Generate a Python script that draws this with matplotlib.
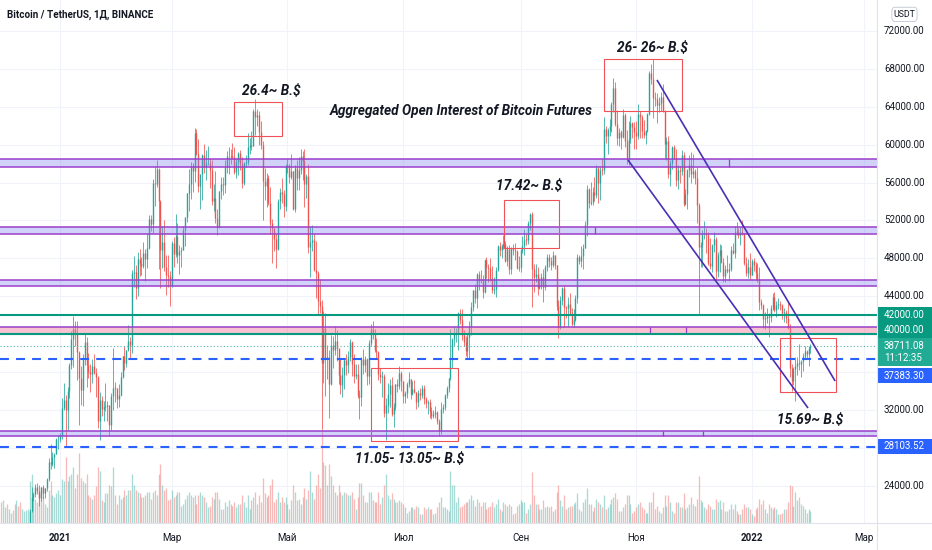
import matplotlib
matplotlib.use("Agg")
import matplotlib.pyplot as plt
from matplotlib.patches import Rectangle, FancyBboxPatch
from matplotlib.lines import Line2D
import numpy as np

plt.rcParams['font.family'] = ['Roboto', 'DejaVu Sans']

# ---------------- data (prices in thousand USDT, daily, from 2020-12-01) -------------
START_DAY = -31          # 2020-12-01 relative to 2021-01-01
FIRST_OPEN = 19.70

close = [
    18.77, 19.22, 19.42, 18.65, 19.15, 19.36, 19.17, 18.32, 18.55, 18.25, 18.04, 18.80, 19.17, 19.27, 19.43, 21.33, 22.80, 23.14, 23.85, 23.48, 22.72, 23.82, 23.25, 23.73, 24.69, 26.49, 26.28, 27.04, 27.37, 28.90, 28.92,
    29.33, 32.18, 33.00, 31.99, 33.95, 36.77, 39.43, 40.58, 40.09, 38.15, 35.40, 34.05, 37.37, 39.15, 36.77, 36.00, 35.80, 36.63, 35.89, 35.47, 30.83, 33.00, 32.09, 32.27, 32.37, 32.56, 30.43, 33.47, 34.32, 34.30, 33.11,
    33.53, 35.51, 37.67, 36.92, 38.29, 39.26, 38.85, 46.45, 46.51, 44.84, 47.97, 47.40, 47.19, 48.60, 47.94, 49.13, 52.12, 51.59, 55.91, 55.89, 57.41, 54.09, 48.89, 49.68, 47.07, 46.28, 46.11, 45.14,
    49.59, 48.44, 50.35, 48.37, 48.75, 48.88, 50.97, 52.38, 54.88, 55.86, 57.77, 57.22, 61.19, 58.97, 55.61, 56.90, 58.91, 57.65, 58.03, 58.10, 57.35, 54.08, 54.34, 52.30, 51.30, 55.07, 55.86, 55.78, 57.63, 58.77, 58.80,
    58.74, 58.72, 57.06, 58.20, 59.13, 57.99, 56.00, 58.09, 58.13, 59.77, 59.96, 59.86, 63.58, 62.96, 63.16, 61.33, 60.00, 56.15, 55.66, 56.47, 53.79, 51.70, 51.15, 50.05, 49.00, 54.02, 55.03, 54.83, 53.56, 57.70,
    57.80, 56.58, 57.17, 53.24, 57.48, 56.44, 57.35, 58.84, 58.24, 55.84, 56.70, 49.15, 49.72, 49.88, 46.76, 46.43, 43.54, 42.91, 36.96, 40.60, 37.33, 37.54, 34.77, 38.85, 38.35, 39.29, 38.55, 35.66, 34.65, 35.68, 37.30,
    36.69, 37.57, 39.19, 36.84, 35.52, 35.80, 33.58, 33.40, 37.39, 36.68, 37.33, 35.55, 39.02, 40.52, 40.14, 38.35, 38.09, 35.82, 35.48, 35.60, 31.68, 32.50, 33.68, 34.66, 31.59, 32.28, 34.70, 34.50, 35.90, 35.04,
    33.51, 33.80, 34.70, 35.29, 33.69, 34.22, 33.88, 32.86, 33.81, 33.52, 34.26, 33.09, 32.73, 32.82, 31.88, 31.38, 31.52, 31.78, 30.84, 29.79, 32.11, 32.29, 33.58, 34.29, 35.38, 37.27, 39.46, 40.00, 40.01, 42.23, 41.46,
    39.85, 39.15, 38.19, 39.72, 40.87, 42.84, 44.61, 43.83, 46.29, 45.60, 45.55, 44.42, 47.83, 47.10, 47.02, 45.94, 44.69, 44.72, 46.76, 49.34, 48.87, 49.29, 49.52, 47.70, 48.95, 46.85, 49.07, 48.90, 48.80, 46.99, 47.10,
    48.85, 49.28, 49.94, 49.93, 51.76, 52.63, 46.86, 46.07, 46.37, 44.84, 45.16, 46.03, 44.93, 47.11, 48.12, 47.75, 47.30, 48.30, 47.26, 43.00, 40.70, 43.57, 44.90, 42.84, 42.70, 43.20, 42.17, 41.03, 41.52, 43.79,
    48.14, 47.71, 48.20, 49.11, 51.51, 55.36, 53.80, 53.97, 54.96, 54.66, 57.49, 56.00, 57.37, 57.35, 61.67, 60.88, 61.53, 62.01, 64.28, 66.00, 62.21, 60.69, 61.29, 60.85, 63.08, 60.33, 58.46, 60.58, 62.25, 61.89, 61.30,
    60.91, 63.22, 62.93, 61.40, 61.00, 61.47, 63.27, 67.54, 66.94, 64.88, 64.81, 64.16, 64.40, 65.00, 63.60, 60.06, 60.35, 56.90, 58.11, 59.70, 58.62, 56.25, 57.27, 57.17, 58.94, 53.70, 54.74, 57.27, 57.80, 56.95,
    57.18, 56.48, 53.60, 49.15, 49.40, 50.53, 50.59, 50.47, 47.55, 47.14, 49.39, 50.05, 46.70, 48.34, 48.86, 47.63, 46.13, 46.83, 46.68, 46.91, 48.89, 48.59, 50.82, 50.81, 50.43, 50.78, 50.70, 47.54, 46.46, 47.12, 46.22,
    47.72, 47.30, 46.44, 45.83, 43.43, 43.08, 41.56, 41.73, 41.86, 41.82, 42.73, 43.90, 42.59, 43.10, 43.18, 43.11, 42.25, 42.37, 41.66, 40.68, 36.45, 35.07, 36.28, 36.65, 36.95, 36.81, 37.16, 37.72, 38.17, 37.92, 38.48, 38.71,
]

high = [
    19.92, 19.34, 19.53, 19.50, 19.18, 19.42, 19.39, 19.29, 18.64, 18.56, 18.29, 18.95, 19.41, 19.35, 19.57, 21.56, 23.80, 23.28, 24.17, 24.30, 24.10, 23.84, 24.10, 23.79, 24.79, 26.87, 28.42, 27.50, 27.41, 29.00, 29.30,
    29.60, 33.30, 34.78, 33.60, 34.36, 36.94, 40.36, 41.95, 41.38, 41.35, 38.26, 36.63, 37.85, 40.10, 39.70, 37.95, 36.85, 37.40, 37.85, 36.42, 35.60, 33.83, 33.46, 32.94, 34.88, 32.92, 32.56, 33.78, 38.53, 34.93, 34.33,
    34.72, 35.98, 37.67, 38.71, 38.31, 40.95, 39.70, 46.79, 48.20, 47.31, 48.68, 48.98, 48.15, 49.70, 49.00, 50.66, 52.62, 52.53, 56.37, 57.77, 58.35, 57.53, 54.18, 51.37, 52.04, 48.37, 48.37, 46.62,
    49.79, 50.20, 52.64, 51.77, 49.45, 49.20, 51.45, 52.40, 54.90, 57.39, 58.15, 58.06, 61.78, 61.68, 60.60, 56.95, 58.98, 60.07, 59.45, 59.88, 58.60, 58.42, 55.83, 57.20, 53.23, 55.10, 56.60, 56.56, 58.40, 59.37, 59.80,
    59.49, 60.20, 59.75, 58.49, 59.25, 59.48, 58.65, 58.15, 58.92, 61.22, 60.69, 61.40, 63.77, 64.85, 63.80, 63.52, 62.50, 60.40, 57.53, 57.00, 56.76, 55.50, 52.13, 51.17, 50.55, 54.30, 55.45, 56.43, 55.20, 57.96,
    58.45, 57.95, 58.98, 57.23, 57.90, 58.36, 58.65, 59.50, 59.30, 59.59, 56.90, 58.00, 51.40, 51.55, 50.70, 49.80, 46.64, 45.80, 43.55, 42.45, 42.20, 38.85, 38.30, 39.90, 39.80, 40.90, 40.40, 38.20, 37.34, 36.49, 37.48,
    37.90, 38.23, 39.48, 39.29, 37.90, 36.79, 36.80, 34.07, 37.53, 38.40, 37.68, 37.45, 39.38, 41.07, 41.33, 40.50, 39.56, 38.20, 36.46, 36.14, 35.75, 33.30, 34.88, 35.30, 35.50, 32.73, 34.75, 35.30, 36.60, 36.10,
    35.04, 33.94, 34.95, 35.95, 35.29, 35.06, 35.10, 33.92, 34.10, 34.26, 34.60, 34.65, 33.34, 33.08, 33.17, 32.25, 31.95, 32.44, 31.90, 31.06, 32.86, 32.58, 33.65, 34.50, 35.40, 40.55, 39.54, 40.90, 40.64, 42.32, 42.60,
    42.60, 40.46, 39.78, 39.97, 41.38, 43.39, 44.70, 45.31, 46.45, 46.70, 46.75, 46.20, 47.88, 48.15, 47.40, 48.05, 47.16, 46.00, 47.05, 49.38, 49.76, 49.50, 50.50, 49.85, 49.25, 49.35, 49.20, 49.50, 49.65, 48.90, 48.25,
    48.95, 50.40, 51.05, 50.56, 51.90, 52.78, 52.92, 47.36, 47.35, 47.03, 45.97, 46.44, 46.88, 47.24, 48.48, 48.50, 48.15, 48.80, 48.36, 47.33, 43.63, 44.00, 44.98, 45.20, 42.97, 43.94, 44.35, 42.80, 42.60, 44.13,
    48.50, 48.35, 49.30, 49.50, 51.90, 55.75, 55.40, 56.10, 55.50, 56.56, 57.84, 57.68, 57.65, 58.53, 62.93, 62.00, 61.75, 62.70, 64.49, 67.00, 66.64, 63.70, 61.75, 61.50, 63.72, 63.30, 61.50, 62.50, 62.98, 62.35, 62.42,
    62.50, 64.27, 63.50, 63.10, 62.60, 61.59, 63.29, 67.79, 68.53, 69.00, 65.60, 65.48, 65.00, 65.55, 66.40, 63.62, 60.80, 60.95, 58.33, 59.85, 60.00, 59.50, 57.85, 57.70, 59.40, 59.20, 55.30, 57.45, 58.90, 59.20,
    59.05, 57.38, 57.60, 53.87, 49.70, 51.00, 51.93, 51.20, 50.80, 50.10, 49.48, 50.80, 50.20, 48.65, 49.50, 49.40, 47.99, 47.30, 48.30, 47.54, 49.33, 49.58, 51.38, 51.81, 51.15, 51.28, 52.09, 50.71, 48.12, 47.90, 48.55,
    47.95, 47.99, 47.57, 47.50, 47.07, 43.75, 43.15, 42.30, 42.79, 42.25, 43.10, 44.35, 44.45, 43.45, 43.80, 43.48, 43.20, 42.70, 42.58, 43.50, 41.10, 36.84, 36.50, 37.55, 37.55, 38.92, 37.23, 38.00, 38.72, 38.36, 38.74, 39.00,
]

low = [
    18.20, 18.33, 18.87, 18.57, 18.50, 18.86, 18.90, 18.20, 17.65, 17.91, 17.57, 18.01, 18.71, 19.00, 19.05, 19.29, 21.23, 22.35, 22.75, 23.06, 21.81, 22.35, 22.60, 22.70, 23.43, 24.50, 25.70, 26.10, 25.88, 27.32, 27.85,
    28.60, 28.95, 31.96, 28.13, 29.90, 33.29, 36.30, 36.50, 38.72, 35.11, 30.42, 32.53, 32.38, 36.70, 34.41, 35.35, 33.85, 34.80, 35.75, 33.40, 30.07, 28.80, 31.39, 30.83, 31.91, 30.84, 29.24, 29.83, 31.99, 32.83, 32.20,
    32.30, 33.42, 35.36, 36.16, 36.57, 38.22, 37.36, 37.99, 45.00, 43.73, 44.00, 46.13, 46.20, 47.00, 45.57, 47.00, 48.95, 50.88, 50.71, 53.56, 55.48, 46.89, 44.89, 47.00, 46.70, 44.11, 45.00, 43.00,
    45.00, 47.05, 48.10, 47.50, 46.30, 47.07, 48.88, 49.27, 51.84, 53.00, 54.27, 55.00, 56.07, 58.90, 55.00, 53.23, 54.12, 57.00, 56.27, 57.82, 55.45, 53.65, 53.00, 51.70, 50.43, 51.20, 54.24, 54.69, 54.90, 57.00, 56.90,
    57.93, 58.45, 56.90, 56.48, 56.80, 57.35, 55.47, 55.75, 57.65, 57.87, 59.00, 59.38, 59.83, 61.00, 62.00, 60.00, 59.58, 52.00, 54.20, 53.42, 53.60, 50.58, 47.50, 48.80, 47.00, 48.90, 53.22, 53.88, 52.33, 53.00,
    57.00, 56.00, 56.42, 53.05, 52.90, 55.20, 55.25, 56.90, 56.25, 53.40, 54.40, 48.60, 46.00, 48.80, 46.65, 43.83, 42.00, 42.25, 30.00, 34.85, 33.50, 35.25, 31.10, 34.60, 36.42, 37.80, 37.20, 34.70, 33.63, 33.40, 34.20,
    35.70, 35.92, 37.17, 35.60, 34.80, 35.26, 33.30, 31.00, 32.40, 35.80, 35.95, 34.60, 34.76, 38.73, 39.50, 38.10, 37.40, 35.13, 34.80, 33.34, 31.25, 28.80, 31.68, 32.30, 31.30, 30.15, 32.00, 33.87, 34.23, 34.00,
    32.71, 32.70, 33.30, 34.37, 33.12, 33.53, 33.80, 32.10, 32.26, 33.00, 33.30, 32.66, 32.20, 31.60, 31.13, 31.02, 31.15, 31.10, 30.48, 29.28, 29.48, 31.71, 31.94, 33.30, 33.88, 35.20, 36.40, 38.77, 39.20, 38.32, 41.05,
    39.42, 38.69, 37.64, 37.50, 37.33, 39.85, 42.45, 43.26, 42.78, 44.70, 45.34, 43.77, 44.30, 45.97, 45.50, 45.65, 44.38, 44.20, 43.95, 46.65, 48.27, 48.00, 49.03, 47.60, 47.15, 46.30, 46.37, 48.38, 47.80, 46.86, 46.70,
    46.50, 48.60, 48.35, 49.40, 49.50, 50.96, 42.84, 44.40, 45.50, 44.15, 44.75, 44.74, 43.37, 44.70, 46.70, 47.05, 46.80, 47.05, 46.85, 42.50, 39.60, 40.55, 43.10, 40.70, 41.65, 40.80, 42.10, 40.90, 40.76, 41.40,
    43.28, 47.43, 47.13, 46.90, 49.06, 50.38, 53.35, 53.65, 53.66, 54.10, 54.40, 53.88, 54.17, 56.82, 56.85, 60.15, 58.96, 60.90, 61.32, 63.48, 62.00, 60.00, 59.88, 59.52, 60.65, 59.80, 58.00, 57.82, 60.17, 60.72, 59.50,
    59.50, 60.63, 60.70, 60.68, 60.74, 60.10, 61.32, 63.10, 66.38, 62.82, 64.10, 62.30, 63.40, 63.50, 63.40, 58.58, 58.37, 56.48, 55.63, 57.40, 58.50, 55.60, 55.30, 55.90, 56.80, 53.50, 53.60, 53.25, 56.60, 55.90,
    56.46, 55.80, 51.70, 42.00, 47.10, 47.10, 50.04, 48.60, 47.30, 46.85, 46.60, 48.65, 45.67, 46.00, 46.55, 47.50, 45.50, 45.50, 46.40, 45.58, 46.63, 48.42, 48.05, 50.41, 50.15, 49.42, 50.46, 47.30, 46.10, 45.90, 45.68,
    46.20, 46.65, 45.70, 45.50, 42.50, 42.65, 40.60, 40.50, 41.20, 39.65, 41.27, 42.50, 42.30, 41.85, 42.60, 42.59, 41.54, 41.25, 41.14, 40.55, 35.44, 34.00, 34.60, 32.92, 35.70, 36.25, 35.50, 36.15, 37.40, 37.35, 36.63, 38.00,
]

# daily volume, thousand BTC
volume = [
    60, 65, 45, 55, 40, 30, 38, 55, 65, 50, 60, 40, 35, 38, 40, 120, 140, 75, 70, 60, 85, 70, 75, 55, 45, 95, 120, 80, 75, 85, 95,
    80, 125, 120, 190, 120, 135, 140, 160, 100, 140, 200, 130, 120, 115, 140, 80, 75, 70, 80, 105, 160, 150, 65, 60, 85, 85, 110, 105, 160, 80, 55,
    80, 70, 75, 95, 80, 95, 95, 140, 110, 95, 90, 85, 75, 75, 80, 90, 90, 70, 90, 95, 80, 140, 170, 110, 95, 100, 65, 70,
    95, 75, 80, 90, 90, 50, 55, 70, 80, 90, 80, 75, 80, 55, 80, 90, 80, 75, 60, 45, 50, 75, 70, 90, 90, 70, 40, 40, 60, 50, 65,
    55, 50, 60, 45, 55, 55, 80, 60, 45, 80, 40, 65, 75, 90, 55, 80, 60, 130, 85, 75, 80, 110, 125, 60, 70, 90, 60, 75, 60, 75,
    55, 40, 65, 110, 90, 65, 70, 55, 75, 100, 70, 95, 150, 90, 70, 110, 140, 100, 270, 175, 165, 110, 170, 135, 110, 90, 80, 110, 90, 80, 90,
    85, 80, 80, 90, 70, 40, 75, 115, 115, 80, 60, 60, 90, 90, 65, 60, 60, 90, 55, 75, 110, 140, 80, 70, 85, 70, 60, 60, 65, 60,
    55, 45, 30, 35, 45, 45, 40, 50, 45, 25, 25, 45, 40, 45, 40, 40, 25, 30, 45, 60, 75, 45, 45, 40, 35, 150, 110, 110, 60, 75, 45,
    50, 55, 60, 60, 70, 80, 65, 50, 70, 60, 50, 60, 60, 40, 45, 50, 60, 45, 55, 70, 40, 35, 60, 55, 50, 55, 50, 25, 30, 50, 55,
    65, 60, 60, 30, 40, 55, 145, 80, 55, 55, 40, 40, 65, 45, 50, 45, 50, 35, 40, 90, 110, 65, 50, 80, 40, 45, 50, 50, 55, 60,
    85, 40, 35, 60, 70, 100, 55, 55, 35, 45, 70, 60, 55, 45, 80, 40, 45, 55, 70, 75, 85, 70, 35, 35, 45, 55, 80, 80, 55, 30, 35,
    45, 55, 60, 45, 40, 30, 30, 60, 60, 90, 40, 50, 35, 30, 45, 80, 50, 80, 60, 35, 30, 60, 60, 45, 45, 85, 40, 45, 55, 75,
    55, 50, 70, 135, 65, 60, 45, 40, 55, 50, 40, 40, 70, 60, 65, 40, 60, 35, 35, 40, 55, 40, 55, 35, 25, 25, 40, 55, 45, 45, 40,
    25, 20, 40, 45, 70, 55, 65, 40, 30, 55, 45, 40, 45, 40, 25, 25, 30, 40, 40, 60, 110, 105, 50, 90, 65, 75, 55, 50, 40, 30, 40, 35,
]

# x-axis labels (day offset from 2021-01-01)
month_days = [0, 59, 120, 181, 243, 304, 365, 424]
month_labels = ['2021', 'Мар', 'Май', 'Июл', 'Сен', 'Ноя', '2022', 'Мар']
price_ticks = [72000, 68000, 64000, 60000, 56000, 52000, 48000, 44000, 32000, 24000]

# horizontal zones (low, high) in thousand USDT
purple_zones = [(57.64, 58.48), (50.56, 51.30), (45.07, 45.71), (29.25, 29.76)]
pink_zone = (40.11, 40.74)
teal_levels = [42.0, 40.0]
dashed_levels = [37.3833, 28.10352]
last_price = 38.71108

# boxes: (day0, day1, low, high)
boxes = [(91.8, 117.2, 60.91, 64.50), (234.3, 263.3, 49.09, 54.15), (164.1, 210.0, 28.71, 36.41),
         (287.1, 328.2, 63.55, 69.04), (380.0, 409.5, 33.88, 39.58)]
# channel lines: ((day, price), (day, price))
channel = [((315.0, 66.83), (409.0, 35.04)), ((299.7, 58.38), (394.7, 32.19))]
notes = [("26.4~ B.$", 111.3, 65.66), ("Aggregated Open Interest of Bitcoin Futures", 211.6, 63.55),
         ("17.42~ B.$", 247.5, 55.63), ("26- 26~ B.$", 312.4, 70.20),
         ("11.05- 13.05~ B.$", 184.7, 26.80), ("15.69~ B.$", 395.8, 30.92)]

assert len(close) == len(high) == len(low) == len(volume)

# ---------------- figure ----------------
W, H = 932, 550
PLOT_R, PLOT_B = 877, 523
fig = plt.figure(figsize=(W / 100, H / 100), dpi=100)
fig.patch.set_facecolor('white')
ax = fig.add_axes([0, (H - PLOT_B) / H, PLOT_R / W, PLOT_B / H])
XL = (-31.66, 431.1)
YL = (20.05, 75.27)
ax.set_xlim(*XL)
ax.set_ylim(*YL)
ax.set_axis_off()

GRID = '#f0f3fa'
for p in range(24, 76, 4):
    ax.axhline(p, color=GRID, lw=0.8, zorder=0)
for d in month_days:
    ax.axvline(d, color=GRID, lw=0.8, zorder=0)

c = np.array(close)
hi = np.array(high)
lo = np.array(low)
vol = np.array(volume, dtype=float)
o = np.array([FIRST_OPEN] + close[:-1])
x = np.arange(len(c)) + START_DAY
up = c >= o
UP, DN = '#26a69a', '#ef5350'
ccol = [UP if u else DN for u in up]

# volume
VTOP = 1500.0
vcol = [(38 / 255, 166 / 255, 154 / 255, 0.4) if u else (239 / 255, 83 / 255, 80 / 255, 0.4) for u in up]
ax.vlines(x, 0, vol / VTOP, transform=ax.get_xaxis_transform(), colors=vcol, lw=0.95, zorder=1)

# candles
ax.vlines(x, lo, hi, colors=ccol, lw=0.55, zorder=2)
bot = np.minimum(o, c)
top = np.maximum(np.maximum(o, c), bot + 0.06)
ax.vlines(x, bot, top, colors=ccol, lw=1.0, zorder=2.1)

# zones
PURP = '#9b3fc9'
for z0, z1 in purple_zones:
    ax.axhspan(z0, z1, color='#7b7ff0', alpha=0.35, lw=0, zorder=3)
    ax.axhline(z0, color=PURP, lw=1.1, zorder=3.2)
    ax.axhline(z1, color=PURP, lw=1.1, zorder=3.2)
ax.axhspan(pink_zone[0], pink_zone[1], color='#ef7a9a', alpha=0.45, lw=0, zorder=3)
ax.axhline(pink_zone[1], color=PURP, lw=1.1, zorder=3.2)

# small anchor marks on zones
ax.vlines([353.0], 57.64, 58.48, color=PURP, lw=0.9, zorder=3.3)
ax.vlines([282.3], 50.56, 51.30, color=PURP, lw=0.9, zorder=3.3)
ax.vlines([311.3, 330.3], 40.11, 40.74, color=PURP, lw=0.9, zorder=3.3)
ax.vlines([318.2, 339.3], 29.25, 29.76, color=PURP, lw=0.9, zorder=3.3)

for lv in teal_levels:
    ax.axhline(lv, color='#089981', lw=1.5, zorder=3.5)
for lv in dashed_levels:
    ax.axhline(lv, color='#2962ff', lw=1.5, ls=(0, (4.3, 3.4)), zorder=3.5)
ax.axhline(last_price, color='#4db6ac', lw=0.8, ls=(0, (1, 2)), zorder=3.4)

for d0, d1, p0, p1 in boxes:
    ax.add_patch(Rectangle((d0, p0), d1 - d0, p1 - p0, fill=False, ec='#f05058', lw=0.8, zorder=4))
for (d0, p0), (d1, p1) in channel:
    ax.plot([d0, d1], [p0, p1], color='#4a2fb5', lw=1.2, zorder=4, solid_capstyle='butt')

txts = []
for s, d, p in notes:
    t = ax.text(d, p, s, ha='center', va='center', fontsize=10, fontstyle='italic',
                fontweight='semibold', color='#131722', zorder=5)
    txts.append(t)

# bottom labels
for d, lab in zip(month_days, month_labels):
    ax.text(d, -15 / PLOT_B, lab, transform=ax.get_xaxis_transform(), ha='center', va='center',
            fontsize=7, fontweight='bold' if lab.isdigit() else 'normal', color='#131722', clip_on=False)

# right price scale
axr = fig.add_axes([PLOT_R / W, (H - PLOT_B) / H, (W - PLOT_R) / W, PLOT_B / H])
axr.set_xlim(0, 1)
axr.set_ylim(*YL)
axr.set_axis_off()
TX = 7 / 55
for p in price_ticks:
    axr.text(TX, p / 1000, f'{p:.2f}', ha='left', va='center', fontsize=7, color='#131722')

PX = 9.47  # px per thousand
badges = [('42000.00', 42.01, 16, '#089981'), ('40000.00', 40.48, 16, '#089981'),
          ('38711.08\n11:12:35', 38.10, 28, '#22ab94'), ('37383.30', 35.62, 15, '#2962ff'),
          ('28103.52', 28.13, 15, '#2962ff')]
for lab, cy, hpx, col in badges:
    hh = hpx / PX
    axr.add_patch(Rectangle((0.02, cy - hh / 2), 0.98, hh, fc=col, ec='none', zorder=2, clip_on=False))
    axr.text(TX, cy, lab, ha='left', va='center', fontsize=7, color='white', zorder=3,
             linespacing=1.25)

axr.add_patch(FancyBboxPatch((0.27, 73.0), 0.46, 1.5, boxstyle='round,pad=0,rounding_size=0.05',
                             fc='white', ec='#c8ccd6', lw=0.7, mutation_aspect=10, clip_on=False))
axr.text(0.5, 73.75, 'USDT', ha='center', va='center', fontsize=6.3, color='#131722')

# separators
fig.add_artist(Line2D([PLOT_R / W] * 2, [0, 1], transform=fig.transFigure, color='#e0e3eb', lw=0.8))
fig.add_artist(Line2D([0, 1], [(H - PLOT_B) / H] * 2, transform=fig.transFigure, color='#e0e3eb', lw=0.8))

title = fig.text(7 / W, 1 - 15 / H, 'Bitcoin / TetherUS, 1Д, BINANCE', ha='left', va='center',
                 fontsize=8, fontweight='semibold', color='#131722')

# fit text widths to the layout
fig.canvas.draw()
r = fig.canvas.get_renderer()
wt = title.get_window_extent(r).width
title.set_fontsize(8 * 147 / wt)
wa = txts[1].get_window_extent(r).width
fs = 10 * 262 / wa
for t in txts:
    t.set_fontsize(fs)

fig.savefig('out.png', dpi=100)
